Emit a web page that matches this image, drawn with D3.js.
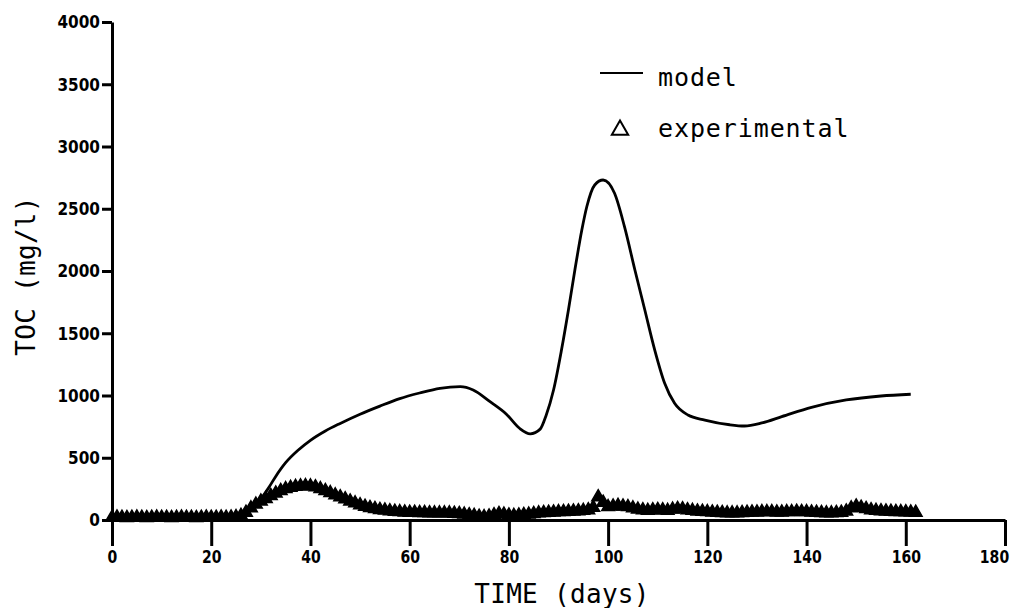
<!DOCTYPE html>
<html>
<head>
<meta charset="utf-8">
<script src="https://cdn.jsdelivr.net/npm/d3@7"></script>
<style>
  html, body { margin: 0; padding: 0; background: #fff; }
  svg { display: block; }
  .tick text { font-family: "DejaVu Sans", sans-serif; font-weight: bold; font-size: 18px; fill: #000; }
  .mono { font-family: "DejaVu Sans Mono", "Liberation Mono", monospace; fill: #000; }
</style>
</head>
<body>
<svg id="chart" width="1011" height="608"></svg>
<script>
// ---- data ----
const xTicks = [0, 20, 40, 60, 80, 100, 120, 140, 160, 180];
const yTicks = [0, 500, 1000, 1500, 2000, 2500, 3000, 3500, 4000];

const modelDays = [0, 10, 20, 25, 27, 29, 31.5, 33, 35, 37.5, 40, 43, 46, 50, 54, 58, 62, 66.1, 70.2, 72.8, 76.2, 79.5, 82.2, 84.3, 86.3, 87.5, 89, 90.6, 92, 93.3, 94.7, 95.7, 97.3, 99, 101.3, 103.3, 105.4, 107.4, 109.4, 111.4, 113.4, 116.1, 119.5, 124.5, 127.5, 131, 135, 141, 148, 155, 161];
const modelTOC = [15, 15, 15, 20, 50, 120, 254, 350, 460, 560, 640, 715, 776, 850, 915, 975, 1020, 1058, 1071, 1044, 950, 850, 735, 692, 730, 840, 1044, 1365, 1687, 2008, 2329, 2516, 2691, 2731, 2624, 2356, 2008, 1687, 1365, 1098, 937, 843, 803, 765, 755, 780, 830, 905, 964, 996, 1010];

// experimental: one value per day, day 0..162
const expTOC = [
  20, 22, 20, 18, 20, 22, 20, 18, 20, 22,
  20, 20, 18, 20, 22, 20, 20, 18, 20, 22,
  20, 20, 22, 20, 22, 25, 35, 60, 95, 125,
  150, 170, 195, 215, 235, 250, 260, 268, 272, 274,
  272, 265, 250, 235, 218, 200, 185, 168, 150, 135,
  120, 108, 98, 90, 82, 78, 72, 68, 65, 62,
  60, 60, 58, 58, 56, 55, 55, 55, 55, 52,
  50, 45, 40, 35, 28, 25, 30, 40, 50, 45,
  38, 35, 38, 42, 45, 50, 55, 58, 60, 62,
  65, 66, 68, 70, 72, 75, 80, 100, 185, 140,
  105, 110, 115, 110, 105, 95, 85, 80, 75, 80,
  82, 80, 75, 85, 90, 88, 80, 75, 70, 68,
  65, 62, 60, 58, 55, 55, 55, 58, 60, 62,
  62, 65, 65, 65, 62, 62, 65, 65, 68, 66,
  65, 62, 60, 58, 55, 55, 58, 60, 70, 95,
  110, 100, 90, 80, 75, 72, 70, 68, 66, 65,
  64, 62, 60
];
const expDays = expTOC.map((_, i) => i);

const legendLabels = ["model", "experimental"];
const xTitle = "TIME (days)";
const yTitle = "TOC (mg/l)";

// ---- layout ----
const svg = d3.select("#chart");
const x = d3.scaleLinear().domain([0, 180]).range([112, 1005]);
const y = d3.scaleLinear().domain([0, 4000]).range([520, 22]);

// experimental markers
const tri = d3.symbol().type(d3.symbolTriangle).size(70);
svg.append("g").selectAll("path")
  .data(expDays.map((d, i) => [d, expTOC[i]]))
  .join("path")
  .attr("d", tri)
  .attr("transform", d => `translate(${x(d[0])},${y(d[1])})`)
  .attr("fill", "#000")
  .attr("stroke", "#000")
  .attr("stroke-width", 1.5);

// model line
const line = d3.line().x(d => x(d[0])).y(d => y(d[1])).curve(d3.curveMonotoneX);
svg.append("path")
  .datum(modelDays.map((d, i) => [d, modelTOC[i]]))
  .attr("d", line)
  .attr("fill", "none")
  .attr("stroke", "#000")
  .attr("stroke-width", 2.8);

// axes
const sx = 0.78;
const xAxis = svg.append("g")
  .attr("transform", `translate(0,${y(0)})`)
  .call(d3.axisBottom(x).tickValues(xTicks).tickFormat(d3.format("d")).tickSizeInner(26).tickSizeOuter(0).tickPadding(4));
xAxis.selectAll(".tick text")
  .attr("transform", d => d === 180 ? `translate(-11,0) scale(${sx},1)` : `scale(${sx},1)`);
const yAxis = svg.append("g")
  .attr("transform", `translate(${x(0)},0)`)
  .call(d3.axisLeft(y).tickValues(yTicks).tickFormat(d3.format("d")).tickSizeInner(10).tickSizeOuter(0).tickPadding(2));
yAxis.selectAll(".tick text").each(function() {
  const t = d3.select(this);
  const tx = +t.attr("x");
  t.attr("x", 0).attr("transform", `translate(${tx},0) scale(0.85,1)`);
});
[xAxis, yAxis].forEach(g => {
  g.select(".domain").attr("stroke", "#000").attr("stroke-width", 3);
  g.selectAll(".tick line").attr("stroke", "#000").attr("stroke-width", 3);
});

// axis titles
svg.append("text").attr("class", "mono")
  .attr("x", 562).attr("y", 603)
  .attr("text-anchor", "middle")
  .style("font-size", "26px").style("letter-spacing", "0.3px")
  .text(xTitle);
svg.append("text").attr("class", "mono")
  .attr("transform", "translate(35,276) rotate(-90)")
  .attr("text-anchor", "middle")
  .style("font-size", "26px").style("letter-spacing", "0.3px")
  .text(yTitle);

// legend
svg.append("line").attr("x1", 600).attr("x2", 643).attr("y1", 73).attr("y2", 73)
  .attr("stroke", "#000").attr("stroke-width", 2);
svg.append("path")
  .attr("d", d3.symbol().type(d3.symbolTriangle).size(115)())
  .attr("transform", "translate(620,130)")
  .attr("fill", "none").attr("stroke", "#000").attr("stroke-width", 2);
svg.selectAll(".leg").data(legendLabels).join("text")
  .attr("class", "mono leg")
  .attr("x", 658)
  .attr("y", (d, i) => i === 0 ? 86 : 137)
  .style("font-size", "25px").style("letter-spacing", "0.9px")
  .text(d => d);
</script>
</body>
</html>
